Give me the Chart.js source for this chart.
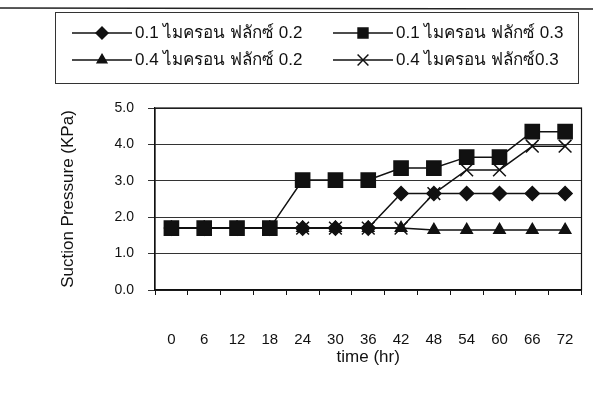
<!DOCTYPE html>
<html>
<head>
<meta charset="utf-8">
<script src="https://cdn.jsdelivr.net/npm/chart.js@4.4.1/dist/chart.umd.min.js"></script>
<style>
html,body{margin:0;padding:0;background:#fff;}
#wrap{position:relative;width:593px;height:395px;}
</style>
</head>
<body>
<div id="wrap"><canvas id="c" width="593" height="395"></canvas></div>
<script>
const categories = ['0','6','12','18','24','30','36','42','48','54','60','66','72'];
const seriesNames = ['0.1 ไมครอน ฟลักซ์ 0.2','0.1 ไมครอน ฟลักซ์ 0.3','0.4 ไมครอน ฟลักซ์ 0.2','0.4 ไมครอน ฟลักซ์0.3'];
const s1 = [1.7,1.7,1.7,1.7,1.7,1.7,1.7,2.65,2.65,2.65,2.65,2.65,2.65];
const s2 = [1.7,1.7,1.7,1.7,3.02,3.02,3.02,3.35,3.35,3.65,3.65,4.35,4.35];
const s3 = [1.7,1.7,1.7,1.7,1.7,1.7,1.7,1.7,1.65,1.65,1.65,1.65,1.65];
const s4 = [1.7,1.7,1.7,1.7,1.7,1.7,1.7,1.7,2.65,3.3,3.3,3.95,3.95];
const yTicks = [0,1,2,3,4,5];

const FONT = "Arial, 'Liberation Sans', 'Noto Sans', sans-serif";
const INK = '#111';

const styles = [
  {pointStyle:'rectRot', pointRadius:7, order:2},
  {pointStyle:'rect', pointRadius:10, order:0},
  {pointStyle:'triangle', pointRadius:6.5, order:3},
  {pointStyle:'crossRot', pointRadius:9, order:1}
];
const values = [s1,s2,s3,s4];

const datasets = values.map((v,i)=>({
  label: seriesNames[i],
  data: v,
  borderColor: INK,
  backgroundColor: INK,
  pointBackgroundColor: INK,
  pointBorderColor: INK,
  borderWidth: 1.5,
  pointBorderWidth: 1.5,
  pointStyle: styles[i].pointStyle,
  pointRadius: styles[i].pointRadius,
  order: styles[i].order,
  tension: 0
}));

const decor = {
  id:'decor',
  beforeDraw(chart){
    const ctx = chart.ctx;
    ctx.save();
    ctx.strokeStyle = '#222';
    ctx.lineWidth = 1.5;
    ctx.beginPath(); ctx.moveTo(0,8); ctx.lineTo(593,9); ctx.stroke();
    ctx.restore();
  },
  afterDraw(chart){
    const ctx = chart.ctx;
    const a = chart.chartArea;
    ctx.save();
    ctx.strokeStyle = INK;
    ctx.lineWidth = 1.2;
    ctx.strokeRect(a.left, a.top, a.right - a.left, a.bottom - a.top);
    // legend box
    ctx.strokeStyle = '#333';
    ctx.lineWidth = 1;
    ctx.strokeRect(55.5, 12.5, 523, 71);
    const pos = [[72,33],[333,33],[72,60],[333,60]];
    chart.data.datasets.forEach((ds,i)=>{
      const [x,y] = pos[i];
      ctx.strokeStyle = INK; ctx.lineWidth = 1.5;
      ctx.beginPath(); ctx.moveTo(x,y); ctx.lineTo(x+60,y); ctx.stroke();
      ctx.fillStyle = INK;
      Chart.helpers.drawPoint(ctx, {pointStyle: ds.pointStyle, radius: ds.pointStyle==='rect'?7:ds.pointRadius*0.85, borderWidth:1.5}, x+30, y);
      ctx.fillStyle = INK;
      ctx.font = '17px ' + FONT;
      ctx.textBaseline = 'middle';
      ctx.textAlign = 'left';
      ctx.fillText(ds.label, x+63, y);
    });
    ctx.restore();
  }
};

new Chart(document.getElementById('c'), {
  type:'line',
  data:{labels:categories, datasets},
  options:{
    responsive:false,
    animation:false,
    events:[],
    layout:{padding:{left:58, right:10, top:108, bottom:27}},
    plugins:{legend:{display:false}, tooltip:{enabled:false}},
    scales:{
      x:{
        offset:true,
        grid:{offset:true, drawOnChartArea:false, drawTicks:true, tickLength:5, color:INK},
        border:{color:INK, width:1.2},
        ticks:{color:INK, font:{family:FONT, size:15}, padding:36, maxRotation:0, autoSkip:false},
        title:{display:true, text:'time (hr)', color:INK, font:{family:FONT, size:17}, padding:{top:0,bottom:0}},
        afterFit(s){ s.height = 78; s.paddingLeft = 0; s.paddingRight = 0; }
      },
      y:{
        min:0, max:5,
        afterBuildTicks(s){ s.ticks = yTicks.map(v=>({value:v})); },
        grid:{color:'#333', lineWidth:1, tickLength:7},
        border:{color:INK, width:1.2},
        ticks:{color:INK, font:{family:FONT, size:14}, padding:14, callback:v=>Number(v).toFixed(1)},
        title:{display:true, text:'Suction Pressure (KPa)', color:INK, font:{family:FONT, size:17}, padding:{top:0,bottom:4}},
        afterFit(s){ s.width = 97; }
      }
    }
  },
  plugins:[decor]
});
</script>
</body>
</html>
